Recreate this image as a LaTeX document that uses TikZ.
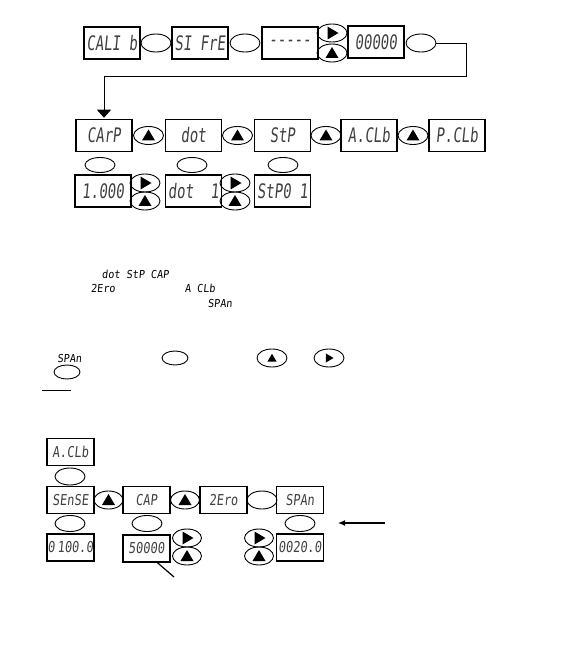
\documentclass[tikz,border=0pt]{standalone}
\usepackage{fontspec}
\usepackage{tikz}
\usetikzlibrary{shapes,arrows.meta,positioning,calc}
\newfontfamily\segfont[FakeStretch=0.7,FakeSlant=0.1]{DejaVu Sans Mono}
\newfontfamily\segwide[FakeStretch=0.8,FakeSlant=0.1]{DejaVu Sans Mono}
\newfontfamily\segnote[FakeStretch=0.92,FakeSlant=0.1]{DejaVu Sans Mono}
\newcommand{\segbig}{\segfont\fontsize{20}{20}\selectfont}
\newcommand{\segmid}{\segwide\fontsize{15}{15}\selectfont}
\newcommand{\segsmall}{\segnote\fontsize{11}{11}\selectfont}

\tikzset{
  disp/.style={draw, line width=1.5pt, minimum width=56pt, minimum height=32pt,
    inner sep=0pt, font=\segbig, text=black!75},
  dispsm/.style={disp, minimum width=47pt, minimum height=27pt, font=\segmid},
  key/.style={draw, ellipse, line width=0.9pt, minimum width=30pt,
    minimum height=18pt, inner sep=0pt},
  keysm/.style={key, minimum width=26pt, minimum height=14pt},
  upkey/.style={key, path picture={\fill
    ([shift={(-6.5pt*#1,-5pt*#1)}]path picture bounding box.center)
    -- ++(13pt*#1,0pt) -- ++(-6.5pt*#1,11pt*#1) -- cycle;}},
  upkey/.default=1,
  rightkey/.style={key, path picture={\fill
    ([shift={(-4.5pt*#1,-6.5pt*#1)}]path picture bounding box.center)
    -- ++(0pt,13pt*#1) -- ++(11pt*#1,-6.5pt*#1) -- cycle;}},
  rightkey/.default=1,
  note/.style={font=\segsmall, inner sep=0pt}
}

\begin{document}
\begin{tikzpicture}[x=1pt,y=-1pt]
\useasboundingbox (0,0) rectangle (567,652);

% first row: entering calibration
\node[disp] (calib) at (112,43) {CALI b};
\node[key] (k1) at (156,43) {};
\node[disp] (sifre) at (200,43) {SI FrE};
\node[key] (k2) at (245,43) {};
\node[disp] (blank) at (290,43) {\raisebox{-4pt}{-----}};
\node[rightkey] (r1) at (332,33) {};
\node[upkey] (u1) at (332,53) {};
\node[disp] (zeros) at (376,42) {00000};
\node[key] (k3) at (421,43) {};

% menu row
\node[disp] (carp) at (104,135.5) {CArP};
\node[upkey] (u2) at (148.5,135.5) {};
\node[disp] (dot) at (193.5,135.5) {dot};
\node[upkey] (u3) at (237.5,135.5) {};
\node[disp] (stp) at (282.5,135.5) {StP};
\node[upkey] (u4) at (326,135.5) {};
\node[disp] (aclb) at (369,135.5) {A.CLb};
\node[upkey] (u5) at (413,135.5) {};
\node[disp] (pclb) at (457,135.5) {P.CLb};

\coordinate (turn) at (466,76);
\draw[line width=0.9pt, -{Triangle[width=14pt,length=8pt]}, shorten >=1pt]
  (k3.east) -| (turn) -| (carp.north);

\node[key, minimum height=15pt] (k4) at (100,165) {};
\node[key, minimum height=15pt] (k5) at (192,165) {};
\node[key, minimum height=15pt] (k6) at (283,165) {};

% values row
\node[disp] (capval) at (103,191) {1.000};
\node[rightkey] (r2) at (145,183) {};
\node[upkey] (u6) at (145,201) {};
\node[disp] (dotval) at (193.5,191) {dot\ \ 1};
\node[rightkey] (r3) at (235,183) {};
\node[upkey] (u7) at (235,201) {};
\node[disp] (stpval) at (282.5,191) {StP0 1};

% words in the text
\node[note] (w1) at (135.5,274) {dot StP CAP};
\node[note] (w2) at (103,288) {2Ero};
\node[note] (w3) at (200,288) {A CLb};
\node[note] (w4) at (220,303) {SPAn};
\node[note] (w5) at (69.5,358) {SPAn};
\node[keysm] (s1) at (67,372) {};
\node[keysm] (s2) at (175,358) {};
\node[keysm, upkey=0.7] (s3) at (272,358) {};
\node[keysm, rightkey=0.7] (s4) at (329,358) {};
\draw[line width=1pt] (42,390) -- (71,390);

% analog calibration
\node[dispsm] (aclb2) at (70.5,452) {A.CLb};
\node[key, minimum height=17pt] (k7) at (70,476.5) {};
\node[dispsm] (sense) at (70.5,500) {SEnSE};
\node[upkey, minimum width=29pt] (u8) at (108.5,500) {};
\node[dispsm] (cap) at (146.5,500) {CAP};
\node[upkey, minimum width=29pt] (u9) at (185,500) {};
\node[dispsm] (zero) at (223.5,500) {2Ero};
\node[key] (k8) at (262,500) {};
\node[dispsm] (span) at (300,500) {SPAn};

\node[key, minimum height=16pt] (k9) at (70,523.5) {};
\node[key, minimum height=16pt] (k10) at (147,523.5) {};
\node[key, minimum height=16pt] (k11) at (300,523.5) {};

\node[dispsm] (senseval) at (70.5,547.5) {0\,100.0};
\node[dispsm] (fifty) at (146.5,548.5) {50000};
\node[rightkey, minimum width=29pt] (r4) at (187,538) {};
\node[upkey, minimum width=29pt] (u10) at (187,556) {};
\node[rightkey, minimum width=29pt] (r5) at (259,538) {};
\node[upkey, minimum width=29pt] (u11) at (259,556) {};
\node[dispsm] (spanval) at (300,547.5) {0020.0};

\coordinate (tail) at (385,523);
\coordinate (head) at (338,523);
\draw[line width=1.2pt, -{Latex[length=7pt,width=6pt]}] (tail) -- (head);

\coordinate (tip) at (174,577);
\draw[line width=1.2pt] ($(fifty.south)+(11,0)$) -- (tip);
\end{tikzpicture}
\end{document}
